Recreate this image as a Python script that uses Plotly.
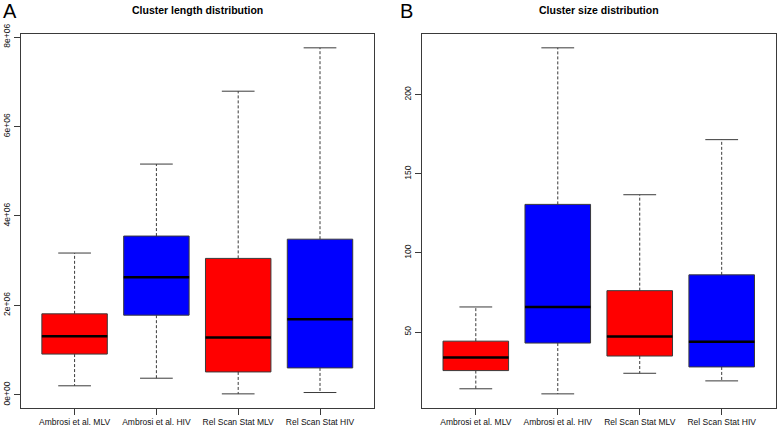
import plotly.graph_objects as go

# ---------------- data ----------------
categories = ["Ambrosi et al. MLV", "Ambrosi et al. HIV", "Rel Scan Stat MLV", "Rel Scan Stat HIV"]
box_colors = ["#FF0000", "#0000FF", "#FF0000", "#0000FF"]

# Panel A: cluster length
len_lower = [0.20e6, 0.37e6, 0.02e6, 0.05e6]
len_q1 = [0.91e6, 1.78e6, 0.51e6, 0.60e6]
len_median = [1.31e6, 2.63e6, 1.28e6, 1.69e6]
len_q3 = [1.81e6, 3.55e6, 3.05e6, 3.48e6]
len_upper = [3.17e6, 5.16e6, 6.79e6, 7.76e6]
len_tickvals = [0, 2e6, 4e6, 6e6, 8e6]
len_ticktext = ["0e+00", "2e+06", "4e+06", "6e+06", "8e+06"]

# Panel B: cluster size
size_lower = [14.2, 11.0, 24.0, 19.2]
size_q1 = [25.7, 43.1, 34.9, 28.0]
size_median = [34.0, 65.9, 47.2, 43.9]
size_q3 = [44.3, 130.7, 76.2, 86.2]
size_upper = [65.9, 229.6, 136.8, 171.6]
size_tickvals = [50, 100, 150, 200]
size_ticktext = ["50", "100", "150", "200"]

titles = ["Cluster length distribution", "Cluster size distribution"]
panel_letters = ["A", "B"]

# ---------------- style ----------------
FONT = "Liberation Sans, Arial, Helvetica, sans-serif"
EDGE = "#3a3a3a"
BOXW = 0.8
STAPLE = 0.4
W, H = 777, 430

positions = list(range(1, len(categories) + 1))

fig = go.Figure()


def add_panel(ax, lower, q1, med, q3, upper):
    xa = "x" if ax == 1 else "x2"
    ya = "y" if ax == 1 else "y2"
    for p, c, a, b, m, d, e in zip(positions, box_colors, lower, q1, med, q3, upper):
        fig.add_trace(go.Box(
            x=[p], q1=[b], median=[m], q3=[d], lowerfence=[b], upperfence=[d],
            width=BOXW, fillcolor=c, line=dict(color=EDGE, width=1),
            boxpoints=False, whiskerwidth=0, showlegend=False, hoverinfo="skip",
            xaxis=xa, yaxis=ya))
    # dashed whiskers
    wx, wy = [], []
    for p, a, b, d, e in zip(positions, lower, q1, q3, upper):
        wx += [p, p, None, p, p, None]
        wy += [b, a, None, d, e, None]
    fig.add_trace(go.Scatter(x=wx, y=wy, mode="lines",
                             line=dict(color=EDGE, width=1, dash="3px,2px"),
                             showlegend=False, hoverinfo="skip", xaxis=xa, yaxis=ya))
    # staples
    sx, sy = [], []
    for p, a, e in zip(positions, lower, upper):
        sx += [p - STAPLE / 2, p + STAPLE / 2, None, p - STAPLE / 2, p + STAPLE / 2, None]
        sy += [a, a, None, e, e, None]
    fig.add_trace(go.Scatter(x=sx, y=sy, mode="lines",
                             line=dict(color=EDGE, width=1),
                             showlegend=False, hoverinfo="skip", xaxis=xa, yaxis=ya))
    # thick medians
    mx, my = [], []
    for p, m in zip(positions, med):
        mx += [p - BOXW / 2, p + BOXW / 2, None]
        my += [m, m, None]
    fig.add_trace(go.Scatter(x=mx, y=my, mode="lines",
                             line=dict(color="black", width=2.5),
                             showlegend=False, hoverinfo="skip", xaxis=xa, yaxis=ya))


add_panel(1, len_lower, len_q1, len_median, len_q3, len_upper)
add_panel(2, size_lower, size_q1, size_median, size_q3, size_upper)


def r_range(lo_list, hi_list):
    lo, hi = min(lo_list), max(hi_list)
    pad = 0.04 * (hi - lo)
    return [lo - pad, hi + pad]


n = len(categories)
xr = [0.5 - 0.04 * n, n + 0.5 + 0.04 * n]

dom_y = [(H - 407.7) / H, (H - 34) / H]
dom_x1 = [20.6 / W, 374.0 / W]
dom_x2 = [421.7 / W, 775.8 / W]

axis_common = dict(showline=True, linecolor=EDGE, linewidth=1, mirror=True,
                   ticks="outside", ticklen=6, tickcolor=EDGE, tickwidth=1,
                   showgrid=False, zeroline=False, automargin=False,
                   tickfont=dict(family=FONT, size=8.5, color="#111"))

fig.update_layout(
    width=W, height=H, margin=dict(l=0, r=0, t=0, b=0, autoexpand=False),
    paper_bgcolor="white", plot_bgcolor="white",
    boxmode="overlay",
    xaxis=dict(domain=dom_x1, range=xr, tickvals=positions, ticktext=categories,
               tickangle=0, anchor="y", **axis_common),
    yaxis=dict(domain=dom_y, range=r_range(len_lower, len_upper), tickvals=len_tickvals,
               ticktext=len_ticktext, tickangle=-90, anchor="x", **axis_common),
    xaxis2=dict(domain=dom_x2, range=xr, tickvals=positions, ticktext=categories,
                tickangle=0, anchor="y2", **axis_common),
    yaxis2=dict(domain=dom_y, range=r_range(size_lower, size_upper), tickvals=size_tickvals,
                ticktext=size_ticktext, tickangle=-90, anchor="x2", **axis_common),
)

annotations = []
for dom, t in zip([dom_x1, dom_x2], titles):
    annotations.append(dict(text="<b>" + t + "</b>", x=(dom[0] + dom[1]) / 2, y=1 - 10 / H,
                            xref="paper", yref="paper", xanchor="center", yanchor="middle",
                            showarrow=False, font=dict(family=FONT, size=10.5, color="black")))
for xp, letter in zip([1 / W, 398 / W], panel_letters):
    annotations.append(dict(text=letter, x=xp, y=1 - 11 / H, xref="paper", yref="paper",
                            xanchor="left", yanchor="middle", showarrow=False,
                            font=dict(family=FONT, size=20, color="black")))
fig.update_layout(annotations=annotations)

fig.write_html("out.html", config={"displayModeBar": False},
               post_script="document.body.style.margin='0';document.body.style.overflow='hidden';")
